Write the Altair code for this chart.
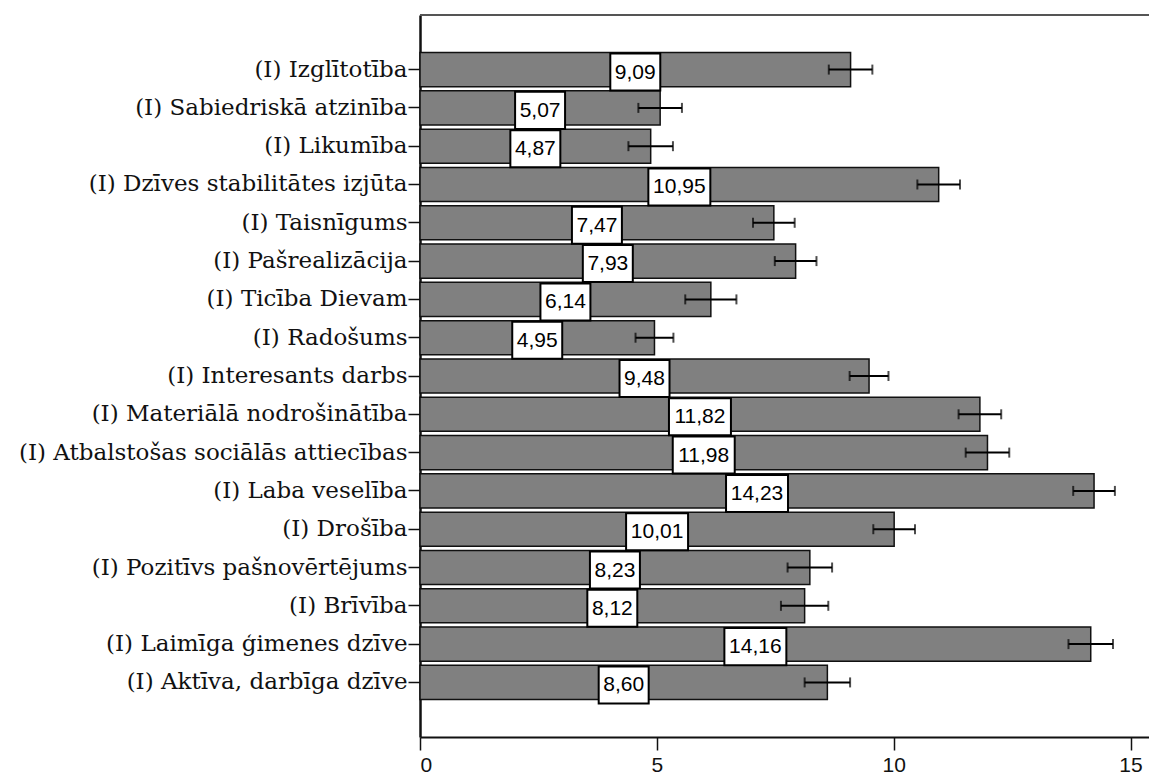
import altair as alt
import pandas as pd

categories = [
    "(I) Izglītotība",
    "(I) Sabiedriskā atzinība",
    "(I) Likumība",
    "(I) Dzīves stabilitātes izjūta",
    "(I) Taisnīgums",
    "(I) Pašrealizācija",
    "(I) Ticība Dievam",
    "(I) Radošums",
    "(I) Interesants darbs",
    "(I) Materiālā nodrošinātība",
    "(I) Atbalstošas sociālās attiecības",
    "(I) Laba veselība",
    "(I) Drošība",
    "(I) Pozitīvs pašnovērtējums",
    "(I) Brīvība",
    "(I) Laimīga ģimenes dzīve",
    "(I) Aktīva, darbīga dzīve",
]
means = [9.09, 5.07, 4.87, 10.95, 7.47, 7.93, 6.14, 4.95, 9.48, 11.82,
         11.98, 14.23, 10.01, 8.23, 8.12, 14.16, 8.60]
err_half = [0.46, 0.46, 0.47, 0.45, 0.44, 0.44, 0.54, 0.40, 0.41, 0.45,
            0.46, 0.44, 0.44, 0.47, 0.50, 0.47, 0.48]
x_ticks = [0, 5, 10, 15]

df = pd.DataFrame({"cat": categories, "mean": means, "err": err_half})
df["lo"] = df["mean"] - df["err"]
df["hi"] = df["mean"] + df["err"]
df["mid"] = df["mean"] / 2
df["label"] = [f"{v:.2f}".replace(".", ",") for v in means]
df["nchar"] = df["label"].str.len()

W, H = 729, 722
XMAX = 15.39

box4 = "M-0.833,-0.617L0.833,-0.617L0.833,0.617L-0.833,0.617Z"
box5 = "M-1.033,-0.617L1.033,-0.617L1.033,0.617L-1.033,0.617Z"

yenc = alt.Y(
    "cat:N",
    sort=categories,
    scale=alt.Scale(paddingInner=0.11, paddingOuter=0.98),
    axis=alt.Axis(
        title=None,
        labelFont="DejaVu Serif",
        labelFontSize=23,
        labelColor="#111111",
        labelLimit=0,
        labelPadding=1,
        tickSize=12,
        tickWidth=1.5,
        tickColor="#111111",
        domainColor="#111111",
        domainWidth=2.5,
    ),
)
xscale = alt.Scale(domain=[0, XMAX], nice=False, zero=True)

base = alt.Chart(df)

bars = base.mark_bar(color="#808080", stroke="#111111", strokeWidth=1.5).encode(
    x=alt.X(
        "mean:Q",
        scale=xscale,
        axis=alt.Axis(
            title=None,
            values=x_ticks,
            grid=False,
            labelFont="Liberation Sans",
            labelFontSize=21,
            labelColor="#111111",
            labelPadding=4,
            tickSize=13,
            tickWidth=1.5,
            tickColor="#111111",
            domainColor="#111111",
            domainWidth=2,
        ),
    ),
    y=yenc,
)

rules = base.mark_rule(color="#000000", strokeWidth=2).encode(
    x="lo:Q", x2="hi:Q", y=alt.Y("cat:N", sort=categories)
)
caps_lo = base.mark_tick(color="#000000", size=10, thickness=2).encode(
    x="lo:Q", y=alt.Y("cat:N", sort=categories)
)
caps_hi = base.mark_tick(color="#000000", size=10, thickness=2).encode(
    x="hi:Q", y=alt.Y("cat:N", sort=categories)
)

boxes = base.mark_point(
    filled=False, fill="white", fillOpacity=1, stroke="#000000",
    strokeWidth=2, strokeOpacity=1, size=3600, yOffset=2.5,
).encode(
    x="mid:Q",
    y=alt.Y("cat:N", sort=categories),
    shape=alt.Shape("nchar:N", scale=alt.Scale(domain=[4, 5], range=[box4, box5]), legend=None),
)

texts = base.mark_text(
    font="Liberation Sans", fontSize=21, color="#000000",
    align="center", baseline="middle", yOffset=3,
).encode(
    x="mid:Q", y=alt.Y("cat:N", sort=categories), text="label:N"
)

topline = alt.Chart(pd.DataFrame({"v": [0]})).mark_rule(
    color="#555555", strokeWidth=2
).encode(x=alt.value(0), x2=alt.value(W), y=alt.value(0))

chart = (
    alt.layer(bars, rules, caps_lo, caps_hi, boxes, texts, topline)
    .properties(
        width=W,
        height=H,
        autosize=alt.AutoSizeParams(type="none"),
        padding={"left": 412, "top": 7, "right": 0, "bottom": 37},
    )
    .configure_view(stroke=None)
    .configure(background="white")
)

chart.save("out.html", embed_options={"renderer": "svg", "actions": False})
